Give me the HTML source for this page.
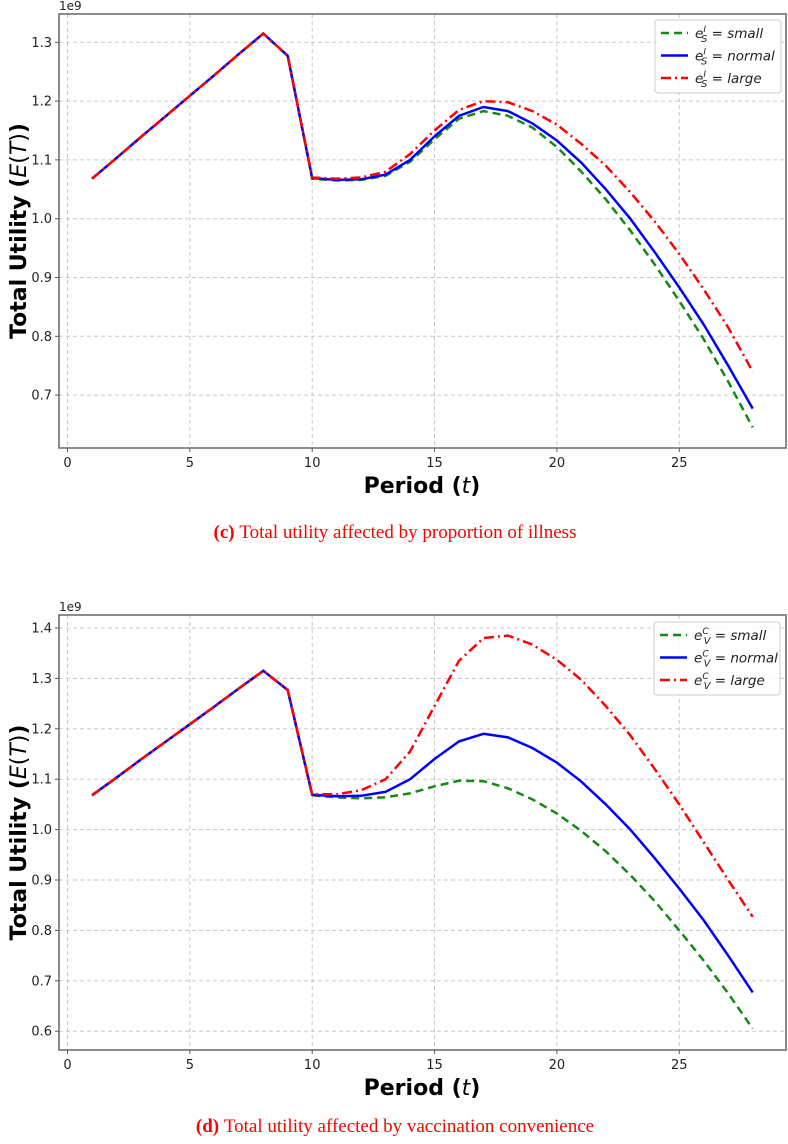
<!DOCTYPE html>
<html><head><meta charset="utf-8">
<style>
body{margin:0;background:#fff;}
svg{display:block;}
</style></head>
<body>
<svg id="fig" width="788" height="1144" viewBox="0 0 788 1144" xmlns="http://www.w3.org/2000/svg"></svg>
<script>
const periods=[1,2,3,4,5,6,7,8,9,10,11,12,13,14,15,16,17,18,19,20,21,22,23,24,25,26,27,28];
const rise=[1.068,1.103,1.139,1.174,1.209,1.244,1.280,1.315,1.277];
const normalTail=[1.069,1.066,1.067,1.075,1.100,1.140,1.175,1.190,1.183,1.162,1.133,1.095,1.050,1.000,0.943,0.883,0.820,0.750,0.677];
const illSmallTail=[1.068,1.065,1.066,1.073,1.097,1.135,1.170,1.183,1.175,1.155,1.122,1.080,1.033,0.980,0.922,0.860,0.795,0.723,0.645];
const illLargeTail=[1.070,1.068,1.070,1.080,1.110,1.150,1.185,1.200,1.198,1.183,1.160,1.127,1.090,1.045,0.995,0.940,0.880,0.815,0.740];
const vacSmallTail=[1.068,1.064,1.062,1.064,1.072,1.086,1.097,1.096,1.082,1.060,1.032,0.997,0.957,0.910,0.858,0.800,0.740,0.675,0.605];
const vacLargeTail=[1.070,1.070,1.078,1.100,1.155,1.245,1.335,1.380,1.385,1.367,1.337,1.297,1.245,1.187,1.120,1.050,0.975,0.900,0.827];
const xTicks=[0,5,10,15,20,25];
const yTicksC=[0.7,0.8,0.9,1.0,1.1,1.2,1.3];
const yTicksD=[0.6,0.7,0.8,0.9,1.0,1.1,1.2,1.3,1.4];
const labelsC=["small","normal","large"];
const labelsD=["small","normal","large"];

const NS="http://www.w3.org/2000/svg";
const fig=document.getElementById('fig');
function mk(tag,attrs,parent){const e=document.createElementNS(NS,tag);for(const k in attrs)e.setAttribute(k,attrs[k]);(parent||fig).appendChild(e);return e;}

function panel(cfg){
  const g=mk('g',{});
  
  
  const L=59,R=786,T=cfg.top,B=cfg.bottom;
  const xs=v=>67.5+(v-0)*24.47;
  const ys=v=>cfg.y0px+(cfg.y0-v)*cfg.pxPer;
  xTicks.forEach(t=>{
    const l=mk('line',{x1:xs(t),x2:xs(t),y1:T,y2:B,stroke:'#c8c8c8','stroke-width':1,'stroke-dasharray':'4,3'},g);
    
    mk('line',{x1:xs(t),x2:xs(t),y1:B,y2:B+4,stroke:'#555','stroke-width':1},g);
    const tx=mk('text',{x:xs(t),y:B+19,'text-anchor':'middle','font-family':'DejaVu Sans, sans-serif','font-size':13,fill:'#222'},g);
    tx.textContent=t;
  });
  cfg.yTicks.forEach(t=>{
    const l=mk('line',{x1:L,x2:R,y1:ys(t),y2:ys(t),stroke:'#c8c8c8','stroke-width':1,'stroke-dasharray':'4,3'},g);
    
    mk('line',{x1:L-4,x2:L,y1:ys(t),y2:ys(t),stroke:'#555','stroke-width':1},g);
    const tx=mk('text',{x:L-7,y:ys(t)+4.5,'text-anchor':'end','font-family':'DejaVu Sans, sans-serif','font-size':13,fill:'#222'},g);
    tx.textContent=t.toFixed(1);
  });
  const fr=mk('rect',{x:L,y:T,width:R-L,height:B-T,fill:'none',stroke:'#666','stroke-width':1.5},g);
  
  const sc=mk('text',{x:L,y:T-4,'font-family':'DejaVu Sans, sans-serif','font-size':12,fill:'#222'},g);
  sc.textContent='1e9';
  const series=[
    {d:rise.concat(cfg.small),c:'#138a13',dash:'8,5',n:'series-small'},
    {d:rise.concat(normalTail),c:'#0000ff',dash:'',n:'series-normal'},
    {d:rise.concat(cfg.large),c:'#ff0000',dash:'10,4,2,4',n:'series-large'}
  ];
  series.forEach(s=>{
    const pts=s.d.map((v,i)=>xs(periods[i]).toFixed(1)+','+ys(v).toFixed(1)).join(' ');
    const p=mk('polyline',{points:pts,fill:'none',stroke:s.c,'stroke-width':2.5,'stroke-dasharray':s.dash},g);
    
  });
  const lx=cfg.legX,ly=cfg.legY;
  const lg=mk('g',{},g);
  
  mk('rect',{x:lx,y:ly,width:126,height:73,rx:3,fill:'#fff','fill-opacity':0.85,stroke:'#ccc','stroke-width':1},lg);
  series.forEach((s,i)=>{
    const yy=ly+13+i*22.5;
    mk('line',{x1:lx+6,x2:lx+33,y1:yy,y2:yy,stroke:s.c,'stroke-width':2.5,'stroke-dasharray':s.dash},lg);
    const t=mk('text',{x:lx+40,y:yy+5,'font-family':'DejaVu Sans, sans-serif','font-size':13.5,'font-style':'italic',fill:'#222'},lg);
    
    const a=mk('tspan',{},t);a.textContent='e';
    const sp=mk('tspan',{dy:-6,'font-size':9},t);sp.textContent=cfg.sup;
    const sb=mk('tspan',{dx:-5,dy:10,'font-size':10},t);sb.textContent=cfg.sub;
    const rest=mk('tspan',{dy:-4},t);rest.textContent=' = '+cfg.labels[i];
  });
  const xt=mk('text',{x:422,y:B+45,'text-anchor':'middle','font-family':'DejaVu Sans, sans-serif','font-size':22,'font-weight':'bold',fill:'#000'},g);
  
  const x1=mk('tspan',{},xt);x1.textContent='Period (';
  const x2=mk('tspan',{'font-weight':'normal','font-style':'italic'},xt);x2.textContent='t';
  const x3=mk('tspan',{},xt);x3.textContent=')';
  const cy=(T+B)/2;
  const yt=mk('text',{x:0,y:0,transform:`translate(26,${cy}) rotate(-90)`,'text-anchor':'middle','font-family':'DejaVu Sans, sans-serif','font-size':22,'font-weight':'bold',fill:'#000'},g);
  
  const y1=mk('tspan',{},yt);y1.textContent='Total Utility (';
  const y2=mk('tspan',{'font-weight':'normal','font-style':'italic'},yt);y2.textContent='E';
  const y3=mk('tspan',{'font-weight':'normal'},yt);y3.textContent='(';
  const y4=mk('tspan',{'font-weight':'normal','font-style':'italic'},yt);y4.textContent='T';
  const y5=mk('tspan',{'font-weight':'normal'},yt);y5.textContent=')';
  const y6=mk('tspan',{},yt);y6.textContent=')';
  const cp=mk('text',{x:cfg.capX,y:cfg.capY,'text-anchor':'middle','font-family':'Liberation Serif, serif','font-size':19,fill:'#ff0000'},g);
  
  const c1=mk('tspan',{'font-weight':'bold'},cp);c1.textContent=cfg.capTag+' ';
  const c2=mk('tspan',{},cp);c2.textContent=cfg.capText;
}

panel({name:'chart-c',top:14,bottom:448,y0:1.3,y0px:42.3,pxPer:588,yTicks:yTicksC,small:illSmallTail,large:illLargeTail,
  legX:655,legY:20,sup:'I',sub:'S',labels:labelsC,capX:395,capY:538,capTag:'(c)',capText:'Total utility affected by proportion of illness'});
panel({name:'chart-d',top:615,bottom:1050,y0:1.4,y0px:628,pxPer:504,yTicks:yTicksD,small:vacSmallTail,large:vacLargeTail,
  legX:654,legY:622,sup:'C',sub:'V',labels:labelsD,capX:395,capY:1132,capTag:'(d)',capText:'Total utility affected by vaccination convenience'});
</script>
</body></html>
